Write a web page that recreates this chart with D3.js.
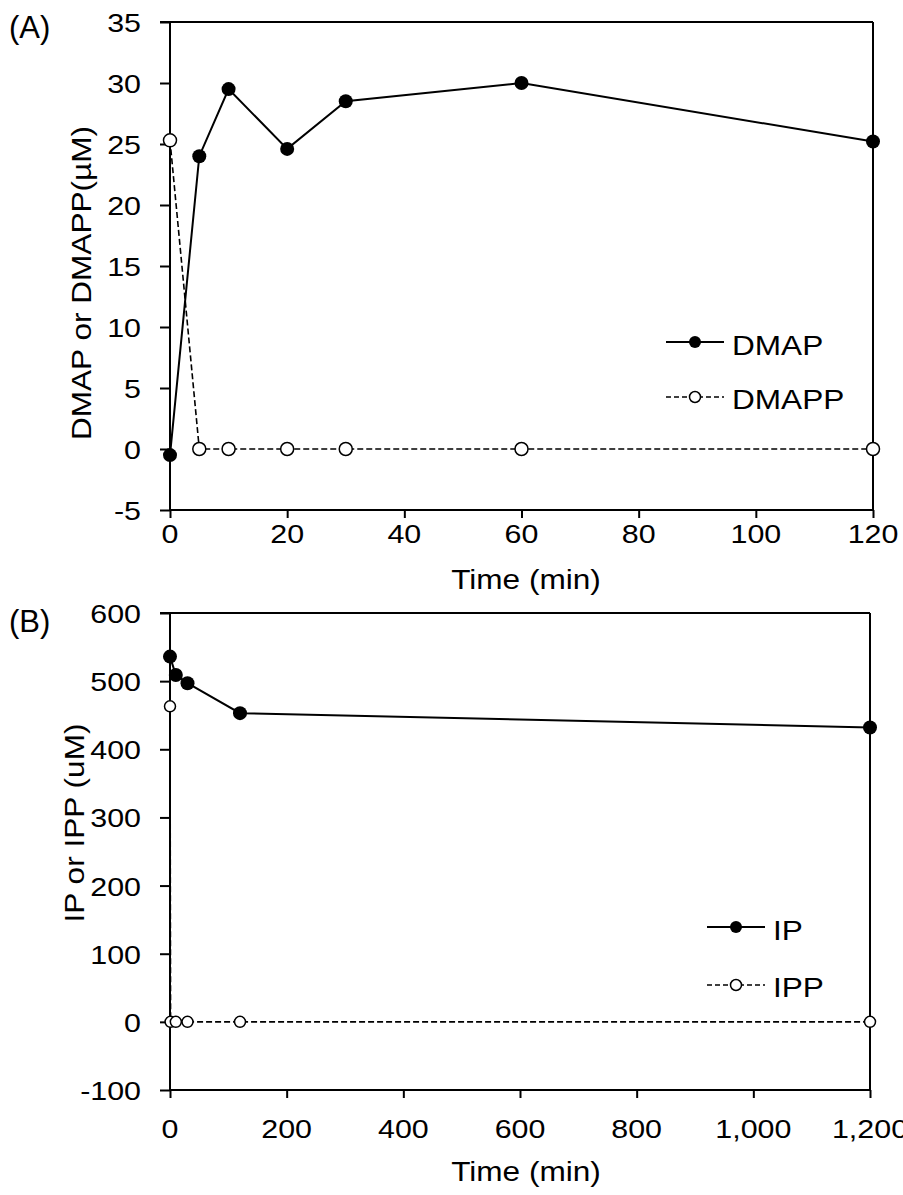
<!DOCTYPE html>
<html><head><meta charset="utf-8">
<script src="https://cdn.jsdelivr.net/npm/d3@7"></script>
<style>body{margin:0;background:#fff}svg{display:block}text{font-family:"Liberation Sans",Arial,sans-serif;fill:#000}</style>
</head><body><svg id="c" width="903" height="1195"></svg>
<script>
// Panel A data
const timeA = [0, 5, 10, 20, 30, 60, 120];
const dmap  = [-0.5, 24, 29.5, 24.6, 28.5, 30, 25.2];
const dmapp = [25.3, 0, 0, 0, 0, 0, 0];
const yTicksA = [-5, 0, 5, 10, 15, 20, 25, 30, 35];
const xTicksA = [0, 20, 40, 60, 80, 100, 120];
// Panel B data
const timeIP = [0, 10, 30, 120, 1200];
const ip     = [536, 509, 497, 453, 432];
const timeIPP = [0, 1, 10, 30, 120, 1200];
const ipp     = [463, 0, 0, 0, 0, 0];
const yTicksB = [-100, 0, 100, 200, 300, 400, 500, 600];
const xTicksB = [0, 200, 400, 600, 800, 1000, 1200];

const svg = d3.select("#c");
const SX = 1.17;
function txt(g, x, y, s, size, anchor, rot){
  const t = g.append("g").attr("transform",`translate(${x},${y})${rot?` rotate(${rot})`:""} scale(${SX},1)`);
  t.append("text").attr("text-anchor",anchor||"start").attr("font-size",size).text(s);
}

function panel(cfg){
  const g = svg.append("g");
  const x = d3.scaleLinear().domain(cfg.xd).range([170, cfg.xr]);
  const y = d3.scaleLinear().domain(cfg.yd).range([cfg.yb, cfg.yt]);
  // frame top and right
  g.append("line").attr("x1",160).attr("x2",x(cfg.xd[1])).attr("y1",y(cfg.yd[1])).attr("y2",y(cfg.yd[1])).attr("stroke","#000").attr("stroke-width",2);
  g.append("line").attr("x1",x(cfg.xd[1])).attr("x2",x(cfg.xd[1])).attr("y1",y(cfg.yd[1])).attr("y2",y(cfg.yd[0])).attr("stroke","#000").attr("stroke-width",2);
  const ya = g.append("g").attr("transform","translate(170,0)")
    .call(d3.axisLeft(y).tickValues(cfg.yticks).tickSize(10).tickFormat(""));
  const xa = g.append("g").attr("transform",`translate(0,${y(cfg.yd[0])})`)
    .call(d3.axisBottom(x).tickValues(cfg.xticks).tickSize(8).tickFormat(""));
  [ya,xa].forEach(a=>{
    a.select(".domain").attr("stroke","#000").attr("stroke-width",2);
    a.selectAll(".tick line").attr("stroke","#000").attr("stroke-width",2);
  });
  xa.select(".domain").attr("d",`M${x(cfg.xd[0])},0H${x(cfg.xd[1])}`);
  ya.select(".domain").attr("d",`M0,${y(cfg.yd[0])}V${y(cfg.yd[1])}`);
  // tick labels
  cfg.yticks.forEach(v=>txt(g, 141, y(v)+10, String(v), 26, "end"));
  cfg.xticks.forEach(v=>txt(g, x(v), cfg.xlabY, cfg.xfmt(v), 26, "middle"));

  const line = d3.line().x(d=>x(d[0])).y(d=>y(d[1]));
  const s2 = d3.zip(cfg.t2, cfg.v2);
  const s1 = d3.zip(cfg.t1, cfg.v1);
  g.append("path").attr("d",line(s2)).attr("fill","none").attr("stroke","#000").attr("stroke-width",1.6).attr("stroke-dasharray","6,3");
  g.append("path").attr("d",line(s1)).attr("fill","none").attr("stroke","#000").attr("stroke-width",2);
  g.selectAll(".o").data(s2).join("circle").attr("cx",d=>x(d[0])).attr("cy",d=>y(d[1])).attr("r",cfg.ro).attr("fill","#fff").attr("stroke","#000").attr("stroke-width",1.5);
  g.selectAll(".f").data(s1).join("circle").attr("cx",d=>x(d[0])).attr("cy",d=>y(d[1])).attr("r",cfg.rf).attr("fill","#000");

  // legend
  const L = cfg.leg;
  g.append("line").attr("x1",L.x).attr("x2",L.x+58).attr("y1",L.y1).attr("y2",L.y1).attr("stroke","#000").attr("stroke-width",2);
  g.append("circle").attr("cx",L.x+29).attr("cy",L.y1).attr("r",6).attr("fill","#000");
  txt(g, L.x+66, L.y1+13, cfg.n1, 27);
  g.append("line").attr("x1",L.x).attr("x2",L.x+58).attr("y1",L.y2).attr("y2",L.y2).attr("stroke","#000").attr("stroke-width",1.5).attr("stroke-dasharray","5,3");
  g.append("circle").attr("cx",L.x+29).attr("cy",L.y2).attr("r",5.5).attr("fill","#fff").attr("stroke","#000").attr("stroke-width",1.5);
  txt(g, L.x+66, L.y2+12, cfg.n2, 27);

  // labels
  g.append("text").attr("x",9).attr("y",cfg.tagY).attr("font-size",31).text(cfg.tag);
  txt(g, cfg.ytitleX, cfg.ytitleC, cfg.ytitle, 27, "middle", -90);
  txt(g, 526, cfg.xtitleY, "Time (min)", 27, "middle");
}

panel({xd:[0,120], xr:873, yd:[-5,35], yb:510, yt:22, yticks:yTicksA, xticks:xTicksA, xfmt:d3.format("d"), xlabY:543,
  t1:timeA, v1:dmap, t2:timeA, v2:dmapp, n1:"DMAP", n2:"DMAPP", rf:7, ro:6.5,
  leg:{x:666, y1:342, y2:397}, tag:"(A)", tagY:38, ytitle:"DMAP or DMAPP(\u00b5M)", ytitleX:91, ytitleC:283, xtitleY:589});
panel({xd:[0,1200], xr:870, yd:[-100,600], yb:1090, yt:613, yticks:yTicksB, xticks:xTicksB, xfmt:d3.format(","), xlabY:1138,
  t1:timeIP, v1:ip, t2:timeIPP, v2:ipp, n1:"IP", n2:"IPP", rf:7, ro:5.5,
  leg:{x:707, y1:927, y2:985}, tag:"(B)", tagY:632, ytitle:"IP or IPP (uM)", ytitleX:84, ytitleC:823, xtitleY:1181});
</script></body></html>
